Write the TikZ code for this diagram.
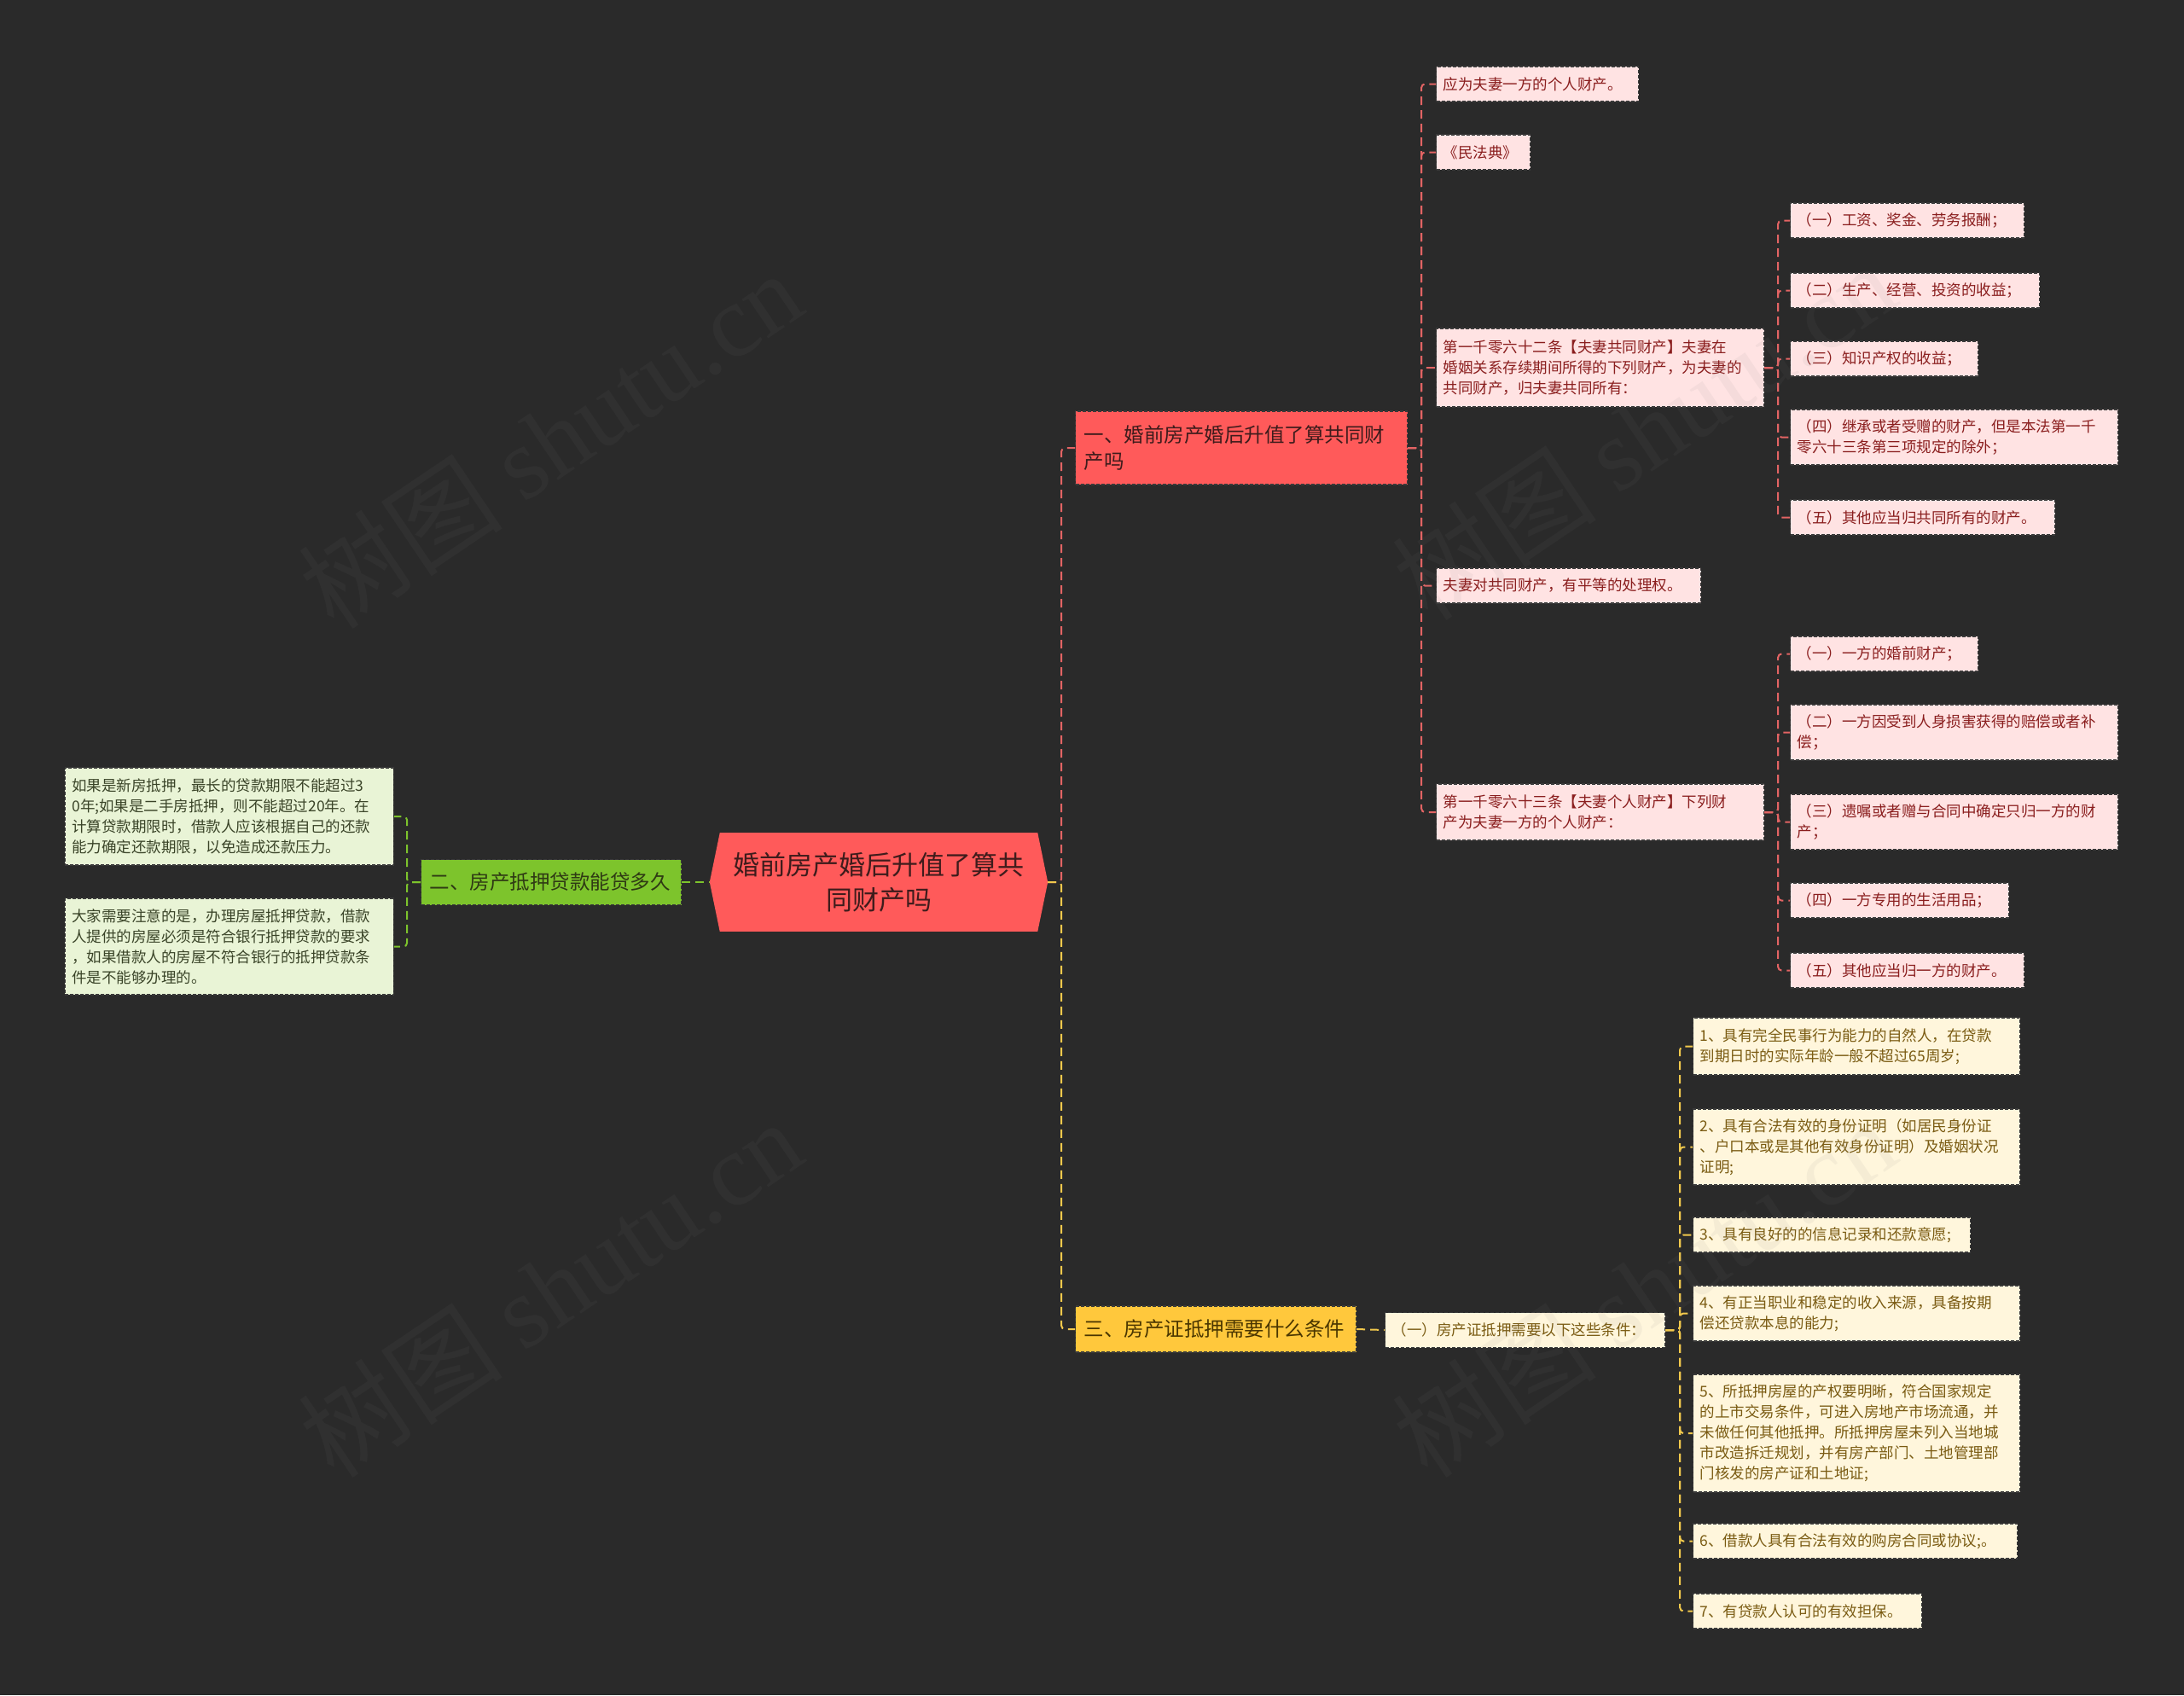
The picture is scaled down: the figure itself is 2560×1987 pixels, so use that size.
\documentclass[tikz,border=0pt]{standalone}
\usepackage{fontspec}
\setmainfont{Noto Sans CJK SC}
\newfontfamily\wmserif{Liberation Serif}
\usetikzlibrary{calc}
\definecolor{bgdark}{HTML}{2A2A2A}
\definecolor{rootred}{HTML}{FF5A5A}
\definecolor{rootink}{HTML}{3E1C1C}
\definecolor{redfill}{HTML}{FFE3E3}
\definecolor{redink}{HTML}{8A1E1E}
\definecolor{redline}{HTML}{E36464}
\definecolor{grnfill}{HTML}{7DC42C}
\definecolor{grnleaf}{HTML}{E9F4D6}
\definecolor{grnink}{HTML}{2F3A14}
\definecolor{grnleafink}{HTML}{3A4428}
\definecolor{ylwfill}{HTML}{FFC83C}
\definecolor{ylwleaf}{HTML}{FFF6DC}
\definecolor{ylwink}{HTML}{4A3600}
\definecolor{ylwleafink}{HTML}{7A5B12}
\definecolor{ylwline}{HTML}{F2C94C}
\definecolor{boxedge}{HTML}{3A3A3A}
\tikzset{
  box/.style={draw=boxedge, dash pattern=on 4pt off 2pt, line width=1.2pt, anchor=west,
    align=left, inner xsep=8pt, inner ysep=4pt, font=\fontsize{17.5}{24}\selectfont},
  rleaf/.style={box, fill=redfill, text=redink, text width=#1, minimum height=41pt},
  gleaf/.style={box, anchor=east, fill=grnleaf, text=grnleafink, text width=#1},
  yleaf/.style={box, fill=ylwleaf, text=ylwleafink, text width=#1, minimum height=41pt},
  branch/.style={box, inner xsep=10pt, font=\fontsize{23.5}{31}\selectfont, text width=#1},
  link/.style={line width=2pt, dash pattern=on 10pt off 6pt, rounded corners=4pt},
  wmark/.style={rotate=34, text=gray, text opacity=0.08, font=\fontsize{120}{120}\selectfont},
}
\begin{document}
\begin{tikzpicture}[x=1pt,y=-1pt]
  \fill[bgdark] (0,0) rectangle (2560,1987);
  \useasboundingbox (0,0) rectangle (2560,1987);

  \node[fill=rootred, text=rootink, minimum width=372pt, minimum height=116pt, align=center,
    font=\fontsize{31}{41}\selectfont] (root) at (1030,1034) {婚前房产婚后升值了算共\\同财产吗};
  \coordinate (rootL) at ([xshift=-12pt]root.west);
  \coordinate (rootR) at ([xshift=12pt]root.east);
  \fill[rootred] (root.north west) -- (rootL) -- (root.south west) -- cycle;
  \fill[rootred] (root.north east) -- (rootR) -- (root.south east) -- cycle;

  \node[branch=369pt, fill=rootred, text=rootink, minimum height=86pt] (b1) at (1260,525) {一、婚前房产婚后升值了算共同财\\产吗};
  \node[branch=285pt, fill=grnfill, text=grnink, minimum height=53pt] (b2) at (493,1034) {二、房产抵押贷款能贷多久};
  \node[branch=309pt, fill=ylwfill, text=ylwink, minimum height=54pt] (b3) at (1260,1558) {三、房产证抵押需要什么条件};

  \node[rleaf=221pt] (r1) at (1683,98.5) {应为夫妻一方的个人财产。};
  \node[rleaf=94pt] (r2) at (1683,178.5) {《民法典》};
  \node[rleaf=368pt, minimum height=92pt] (r3) at (1683,431) {第一千零六十二条【夫妻共同财产】夫妻在\\婚姻关系存续期间所得的下列财产，为夫妻的\\共同财产，归夫妻共同所有：};
  \node[rleaf=294pt] (r4) at (1683,686.5) {夫妻对共同财产，有平等的处理权。};
  \node[rleaf=368pt, minimum height=66pt] (r5) at (1683,952) {第一千零六十三条【夫妻个人财产】下列财\\产为夫妻一方的个人财产：};

  \node[rleaf=258pt] (a1) at (2098,258.5) {（一）工资、奖金、劳务报酬；};
  \node[rleaf=276pt] (a2) at (2098,340.5) {（二）生产、经营、投资的收益；};
  \node[rleaf=204pt] (a3) at (2098,420.5) {（三）知识产权的收益；};
  \node[rleaf=368pt, minimum height=65pt] (a4) at (2098,512.5) {（四）继承或者受赠的财产，但是本法第一千\\零六十三条第三项规定的除外；};
  \node[rleaf=294pt] (a5) at (2098,606.5) {（五）其他应当归共同所有的财产。};

  \node[rleaf=204pt] (c1) at (2098,766.5) {（一）一方的婚前财产；};
  \node[rleaf=368pt, minimum height=65pt] (c2) at (2098,858.5) {（二）一方因受到人身损害获得的赔偿或者补\\偿；};
  \node[rleaf=368pt, minimum height=65pt] (c3) at (2098,963.5) {（三）遗嘱或者赠与合同中确定只归一方的财\\产；};
  \node[rleaf=240pt] (c4) at (2098,1055.5) {（四）一方专用的生活用品；};
  \node[rleaf=258pt] (c5) at (2098,1137.5) {（五）其他应当归一方的财产。};

  \node[gleaf=369pt, minimum height=114pt] (g1) at (462,957) {如果是新房抵押，最长的贷款期限不能超过3\\0年;如果是二手房抵押，则不能超过20年。在\\计算贷款期限时，借款人应该根据自己的还款\\能力确定还款期限，以免造成还款压力。};
  \node[gleaf=369pt, minimum height=113pt] (g2) at (462,1109.5) {大家需要注意的是，办理房屋抵押贷款，借款\\人提供的房屋必须是符合银行抵押贷款的要求\\，如果借款人的房屋不符合银行的抵押贷款条\\件是不能够办理的。};

  \node[yleaf=312pt] (ysub) at (1623,1559) {（一）房产证抵押需要以下这些条件：};
  \node[yleaf=367pt, minimum height=67pt] (y1) at (1984,1226.5) {1、具有完全民事行为能力的自然人，在贷款\\到期日时的实际年龄一般不超过65周岁;};
  \node[yleaf=367pt, minimum height=89pt] (y2) at (1984,1344.5) {2、具有合法有效的身份证明（如居民身份证\\、户口本或是其他有效身份证明）及婚姻状况\\证明;};
  \node[yleaf=309pt] (y3) at (1984,1447.5) {3、具有良好的的信息记录和还款意愿;};
  \node[yleaf=367pt, minimum height=65pt] (y4) at (1984,1539.5) {4、有正当职业和稳定的收入来源，具备按期\\偿还贷款本息的能力;};
  \node[yleaf=367pt, minimum height=138pt] (y5) at (1984,1680) {5、所抵押房屋的产权要明晰，符合国家规定\\的上市交易条件，可进入房地产市场流通，并\\未做任何其他抵押。所抵押房屋未列入当地城\\市改造拆迁规划，并有房产部门、土地管理部\\门核发的房产证和土地证;};
  \node[yleaf=364pt] (y6) at (1984,1806.5) {6、借款人具有合法有效的购房合同或协议;。};
  \node[yleaf=252pt] (y7) at (1984,1888.5) {7、有贷款人认可的有效担保。};

  \draw[link, redline] (rootR) -- ++(16,0) |- (b1.west);
  \draw[link, ylwline] (rootR) -- ++(16,0) |- (b3.west);
  \draw[link, grnfill] (b2.east) -- (rootL);
  \foreach \n in {r1,r2,r3,r4,r5}
    \draw[link, redline] (b1.east) -- ++(16,0) |- (\n.west);
  \foreach \n in {a1,a2,a3,a4,a5}
    \draw[link, redline] (r3.east) -- ++(16,0) |- (\n.west);
  \foreach \n in {c1,c2,c3,c4,c5}
    \draw[link, redline] (r5.east) -- ++(16,0) |- (\n.west);
  \foreach \n in {g1,g2}
    \draw[link, grnfill] (b2.west) -- ++(-16,0) |- (\n.east);
  \draw[link, ylwline] (b3.east) -- (ysub.west);
  \foreach \n in {y1,y2,y3,y4,y5,y6,y7}
    \draw[link, ylwline] (ysub.east) -- ++(17,0) |- (\n.west);

  \node[wmark] (wm1) at (645,515) {树图 {\wmserif shutu.cn}};
  \node[wmark] (wm2) at (1927,505) {树图 {\wmserif shutu.cn}};
  \node[wmark] (wm3) at (645,1510) {树图 {\wmserif shutu.cn}};
  \node[wmark] (wm4) at (1927,1510) {树图 {\wmserif shutu.cn}};
\end{tikzpicture}
\end{document}
